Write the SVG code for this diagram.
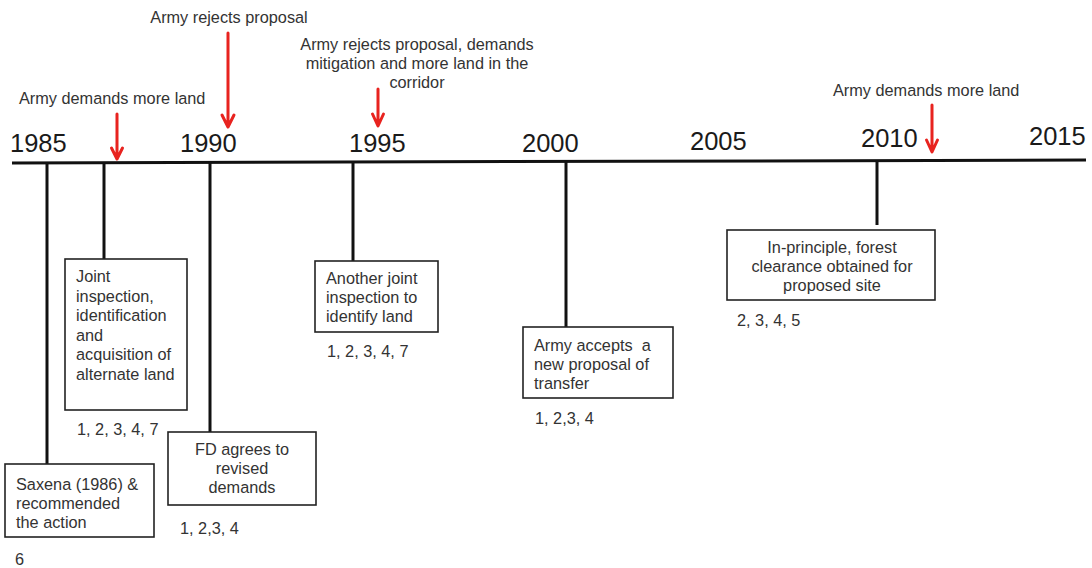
<svg xmlns="http://www.w3.org/2000/svg" width="1092" height="568" viewBox="0 0 1092 568">
<style>
text{font-family:"Liberation Sans",Arial,sans-serif;}
.yr{font-size:25.5px;fill:#1a1a1a;}
.t{font-size:16.3px;fill:#333;}
.m{text-anchor:middle;}
.box{fill:#fff;stroke:#222;stroke-width:1.6;}
.stem{stroke:#111;stroke-width:3;fill:none;}
.red{stroke:#e8231f;stroke-width:3;fill:none;stroke-linecap:round;stroke-linejoin:round;}
</style>
<rect width="1092" height="568" fill="#fff"/>
<g id="axis">
<line x1="12" y1="163" x2="1086" y2="160" stroke="#111" stroke-width="3"/>
<text class="yr" x="10" y="152">1985</text>
<text class="yr" x="180" y="152">1990</text>
<text class="yr" x="349" y="152">1995</text>
<text class="yr" x="522" y="152">2000</text>
<text class="yr" x="690" y="150">2005</text>
<text class="yr" x="861" y="147">2010</text>
<text class="yr" x="1029" y="145">2015</text>
</g>
<g id="connectors">
<line class="stem" x1="47" y1="163" x2="47" y2="465"/>
<line class="stem" x1="104" y1="163" x2="104" y2="259"/>
<line class="stem" x1="210" y1="162" x2="210" y2="432"/>
<line class="stem" x1="353" y1="162" x2="353" y2="261"/>
<line class="stem" x1="566" y1="162" x2="566" y2="327"/>
<line class="stem" x1="877" y1="161" x2="877" y2="225"/>
<path class="red" d="M117 114V158M111.5 148L117 159L122.5 148"/>
<path class="red" d="M228 33V126M222 115L228 127L234 115"/>
<path class="red" d="M378 89V125M372.5 114L378 126L383.5 114"/>
<path class="red" d="M932 105V151M926.5 140L932 152L937.5 140"/>
</g>
<g id="note-1987">
<text class="t" x="19" y="104">Army demands more land</text>
</g>
<g id="note-1990">
<text class="t m" x="229" y="23">Army rejects proposal</text>
</g>
<g id="note-1995">
<text class="t m" x="417" y="50">Army rejects proposal, demands</text>
<text class="t m" x="417" y="69">mitigation and more land in the</text>
<text class="t m" x="417" y="88">corridor</text>
</g>
<g id="note-2011">
<text class="t" x="833" y="96">Army demands more land</text>
</g>
<g id="saxena">
<rect class="box" x="5" y="464" width="149" height="73"/>
<text class="t" x="16" y="490">Saxena (1986) &amp;</text>
<text class="t" x="16" y="509">recommended</text>
<text class="t" x="16" y="528">the action</text>
<text class="t" x="15" y="565">6</text>
</g>
<g id="joint-inspection">
<rect class="box" x="65" y="259" width="122" height="151"/>
<text class="t" x="76" y="282">Joint</text>
<text class="t" x="76" y="301.5">inspection,</text>
<text class="t" x="76" y="321">identification</text>
<text class="t" x="76" y="340.5">and</text>
<text class="t" x="76" y="360">acquisition of</text>
<text class="t" x="76" y="379.5">alternate land</text>
<text class="t" x="77" y="435">1, 2, 3, 4, 7</text>
</g>
<g id="fd-agrees">
<rect class="box" x="168" y="432" width="148" height="73"/>
<text class="t m" x="242" y="455">FD agrees to</text>
<text class="t m" x="242" y="474">revised</text>
<text class="t m" x="242" y="493">demands</text>
<text class="t" x="180" y="534">1, 2,3, 4</text>
</g>
<g id="another-joint">
<rect class="box" x="315" y="261" width="123" height="71"/>
<text class="t" x="326" y="284">Another joint</text>
<text class="t" x="326" y="303">inspection to</text>
<text class="t" x="326" y="322">identify land</text>
<text class="t" x="327" y="357">1, 2, 3, 4, 7</text>
</g>
<g id="army-accepts">
<rect class="box" x="523" y="327" width="150" height="71"/>
<text class="t" x="534" y="351" xml:space="preserve">Army accepts  a</text>
<text class="t" x="534" y="370">new proposal of</text>
<text class="t" x="534" y="389">transfer</text>
<text class="t" x="535" y="424">1, 2,3, 4</text>
</g>
<g id="in-principle">
<rect class="box" x="727" y="230" width="208" height="70"/>
<text class="t m" x="832" y="253">In-principle, forest</text>
<text class="t m" x="832" y="272">clearance obtained for</text>
<text class="t m" x="832" y="291">proposed site</text>
<text class="t" x="737" y="326">2, 3, 4, 5</text>
</g>
</svg>
